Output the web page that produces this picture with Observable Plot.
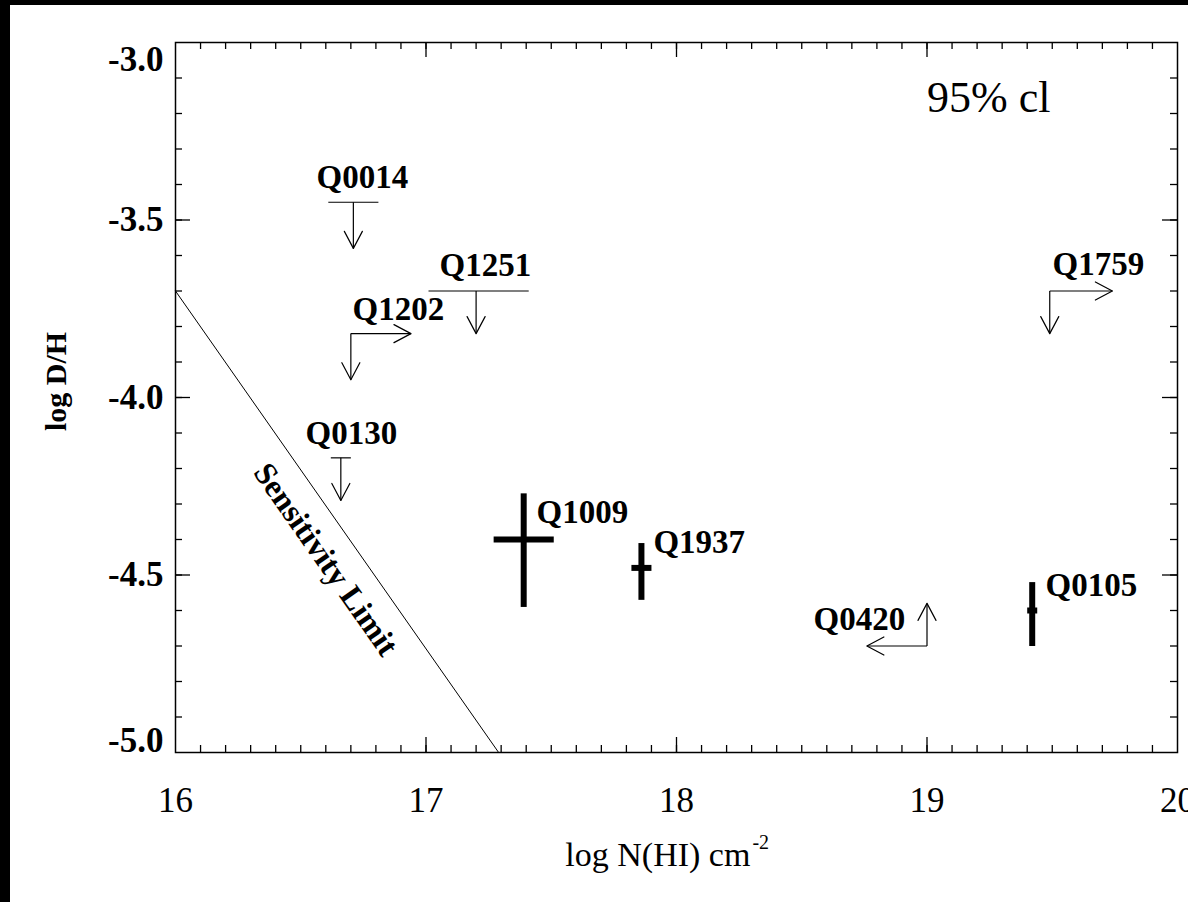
<!DOCTYPE html>
<html>
<head>
<meta charset="utf-8">
<script src="https://cdn.jsdelivr.net/npm/d3@7"></script>
<script src="https://cdn.jsdelivr.net/npm/@observablehq/plot@0.6"></script>
<style>
  html, body { margin: 0; padding: 0; background: #000; width: 1188px; height: 902px; overflow: hidden; }
  #chart { position: absolute; left: 10px; top: 5px; width: 1178px; height: 897px; background: #fff; }
  #chart svg { display: block; }
</style>
</head>
<body>
<div id="chart"></div>
<script>
// ---- axis ticks ----
const xTickLabels = [16, 17, 18, 19, 20];
const yTickLabels = [-3.0, -3.5, -4.0, -4.5, -5.0];
const xMajor = [17, 18, 19];
const yMajor = [-3.5, -4.0, -4.5];
const xMinor = d3.range(161, 200).map(d => d / 10);
const yMinor = d3.range(-49, -30).map(d => d / 10);

// ---- upper limits (bar in N(HI), arrow down in D/H) ----
const limitNames = ["Q0014", "Q1251", "Q0130"];
const limitX     = [16.71, 17.20, 16.66];
const limitY     = [-3.45, -3.70, -4.17];
const limitXlo   = [16.61, 17.01, 16.62];
const limitXhi   = [16.81, 17.41, 16.70];
const limitYtip  = [-3.58, -3.82, -4.29];

// ---- corner limits (arrow in N(HI) and arrow in D/H) ----
const cornerNames = ["Q1202", "Q1759", "Q0420"];
const cornerX     = [16.70, 19.49, 19.00];
const cornerY     = [-3.82, -3.70, -4.70];
const cornerXtip  = [16.94, 19.74, 18.76];
const cornerYtip  = [-3.95, -3.82, -4.58];

// ---- measurements with error bars ----
const measNames = ["Q1009", "Q1937", "Q0105"];
const measX     = [17.39, 17.86, 19.42];
const measY     = [-4.40, -4.48, -4.60];
const measXlo   = [17.27, 17.82, 19.40];
const measXhi   = [17.51, 17.90, 19.44];
const measYlo   = [-4.59, -4.57, -4.70];
const measYhi   = [-4.27, -4.41, -4.52];

// ---- labels ----
const labelNames = ["Q0014", "Q1251", "Q1202", "Q0130", "Q1009", "Q1937", "Q0420", "Q0105", "Q1759"];
const labelX     = [16.563, 17.054, 16.707, 16.519, 17.441, 17.908, 18.547, 19.473, 19.501];
const labelY     = [-3.379, -3.628, -3.752, -4.101, -4.324, -4.408, -4.625, -4.530, -3.625];

// ---- sensitivity limit ----
const sensX = [16.00, 17.29];
const sensY = [-3.70, -5.00];
const sensLabel = "Sensitivity Limit";
const sensLabelX = 16.60;
const sensLabelY = -4.456;

const clText = "95% cl";
const clX = 19.0, clY = -3.156;

const xTitle = "log N(HI) cm";
const xTitleSup = "-2";
const yTitle = "log D/H";

// ---- derived tables ----
const limits = limitNames.map((n, i) => ({n, x: limitX[i], y: limitY[i], xlo: limitXlo[i], xhi: limitXhi[i], yt: limitYtip[i]}));
const corners = cornerNames.map((n, i) => ({n, x: cornerX[i], y: cornerY[i], xt: cornerXtip[i], yt: cornerYtip[i]}));
const meas = measNames.map((n, i) => ({n, x: measX[i], y: measY[i], xlo: measXlo[i], xhi: measXhi[i], ylo: measYlo[i], yhi: measYhi[i]}));
const labels = labelNames.map((n, i) => ({n, x: labelX[i], y: labelY[i]}));

const shafts = [
  ...limits.map(d => ({x1: d.x, y1: d.y, x2: d.x, y2: d.yt})),
  ...corners.map(d => ({x1: d.x, y1: d.y, x2: d.x, y2: d.yt})),
  ...corners.map(d => ({x1: d.x, y1: d.y, x2: d.xt, y2: d.y}))
];
const heads = [
  ...limits.map(d => ({x: d.x, y: d.yt, r: d.yt < d.y ? 180 : 0})),
  ...corners.map(d => ({x: d.x, y: d.yt, r: d.yt < d.y ? 180 : 0})),
  ...corners.map(d => ({x: d.xt, y: d.y, r: d.xt > d.x ? 90 : 270}))
];

const headShape = {
  draw(ctx) {
    ctx.moveTo(-9, 17);
    ctx.lineTo(0, 0);
    ctx.lineTo(9, 17);
  }
};

const W = 1178, H = 897;
const mL = 165, mT = 37, mR = 11, mB = 150;
const plotW = W - mL - mR, plotH = H - mT - mB;
const serif = "Liberation Serif, Times New Roman, serif";
const ink = "#000";

const chart = Plot.plot({
  width: W, height: H,
  marginLeft: mL, marginTop: mT, marginRight: mR, marginBottom: mB,
  x: {domain: [16, 20], axis: null},
  y: {domain: [-5, -3], axis: null},
  style: {fontFamily: serif, background: "#fff", color: ink, overflow: "visible"},
  marks: [
    // ticks (inward, mirrored)
    Plot.ruleX(xMinor, {x: d => d, insetTop: plotH - 7, stroke: ink, strokeWidth: 1.3}),
    Plot.ruleX(xMinor, {x: d => d, insetBottom: plotH - 7, stroke: ink, strokeWidth: 1.3}),
    Plot.ruleX(xMajor, {x: d => d, insetTop: plotH - 15, stroke: ink, strokeWidth: 1.3}),
    Plot.ruleX(xMajor, {x: d => d, insetBottom: plotH - 15, stroke: ink, strokeWidth: 1.3}),
    Plot.ruleY(yMinor, {y: d => d, insetRight: plotW - 7, stroke: ink, strokeWidth: 1.3}),
    Plot.ruleY(yMinor, {y: d => d, insetLeft: plotW - 7, stroke: ink, strokeWidth: 1.3}),
    Plot.ruleY(yMajor, {y: d => d, insetRight: plotW - 15, stroke: ink, strokeWidth: 1.3}),
    Plot.ruleY(yMajor, {y: d => d, insetLeft: plotW - 15, stroke: ink, strokeWidth: 1.3}),
    Plot.frame({stroke: ink, strokeWidth: 1.5}),

    // tick labels
    Plot.text(xTickLabels, {x: d => d, frameAnchor: "bottom", text: d => String(d), dy: 35, lineAnchor: "top",
      fontSize: 35, fill: ink}),
    Plot.text(yTickLabels.filter(d => d !== -3 && d !== -5), {y: d => d, frameAnchor: "left", text: d => d.toFixed(1),
      dx: -12, textAnchor: "end", lineAnchor: "middle", fontSize: 35, fontWeight: "bold", fill: ink}),
    Plot.text(yTickLabels.filter(d => d === -3), {y: d => d, frameAnchor: "left", text: d => d.toFixed(1),
      dx: -12, dy: 17, textAnchor: "end", lineAnchor: "middle", fontSize: 35, fontWeight: "bold", fill: ink}),
    Plot.text(yTickLabels.filter(d => d === -5), {y: d => d, frameAnchor: "left", text: d => d.toFixed(1),
      dx: -12, dy: -12, textAnchor: "end", lineAnchor: "middle", fontSize: 35, fontWeight: "bold", fill: ink}),

    // axis titles (placed below the frame in data units)
    Plot.text([xTitle], {x: 18.295, y: -5.29, text: d => d, textAnchor: "end",
      lineAnchor: "middle", fontSize: 34, fill: ink}),
    Plot.text([xTitleSup], {x: 18.303, y: -5.255, text: d => d, textAnchor: "start",
      lineAnchor: "middle", fontSize: 20, fill: ink}),
    Plot.text([yTitle], {y: -3.955, frameAnchor: "left", text: d => d, dx: -119, rotate: -90,
      textAnchor: "middle", lineAnchor: "middle", fontSize: 30, fontWeight: "bold", fill: ink}),

    // sensitivity limit
    Plot.line(sensX.map((x, i) => ({x, y: sensY[i]})), {x: "x", y: "y", stroke: ink, strokeWidth: 1}),
    Plot.text([sensLabel], {x: sensLabelX, y: sensLabelY, text: d => d, rotate: 55, fontSize: 32,
      fontWeight: "bold", textAnchor: "middle", lineAnchor: "middle", fill: ink}),

    // upper limit bars
    Plot.link(limits, {x1: "xlo", x2: "xhi", y1: "y", y2: "y", stroke: ink, strokeWidth: 1.2}),
    // arrows
    Plot.link(shafts, {x1: "x1", y1: "y1", x2: "x2", y2: "y2", stroke: ink, strokeWidth: 1.2}),
    Plot.vector(heads, {x: "x", y: "y", rotate: "r", length: 20, anchor: "start", shape: headShape,
      stroke: ink, strokeWidth: 1.2, fill: "none"}),

    // measurements
    Plot.link(meas, {x1: "x", x2: "x", y1: "ylo", y2: "yhi", stroke: ink, strokeWidth: 6, strokeLinecap: "butt"}),
    Plot.link(meas, {x1: "xlo", x2: "xhi", y1: "y", y2: "y", stroke: ink, strokeWidth: 6, strokeLinecap: "butt"}),

    // labels
    Plot.text(labels, {x: "x", y: "y", text: "n", textAnchor: "start", lineAnchor: "middle",
      fontSize: 33, fontWeight: "bold", fill: ink}),
    Plot.text([clText], {x: clX, y: clY, text: d => d, textAnchor: "start", lineAnchor: "middle",
      fontSize: 44, fill: ink})
  ]
});
document.getElementById("chart").appendChild(chart);
</script>
</body>
</html>
